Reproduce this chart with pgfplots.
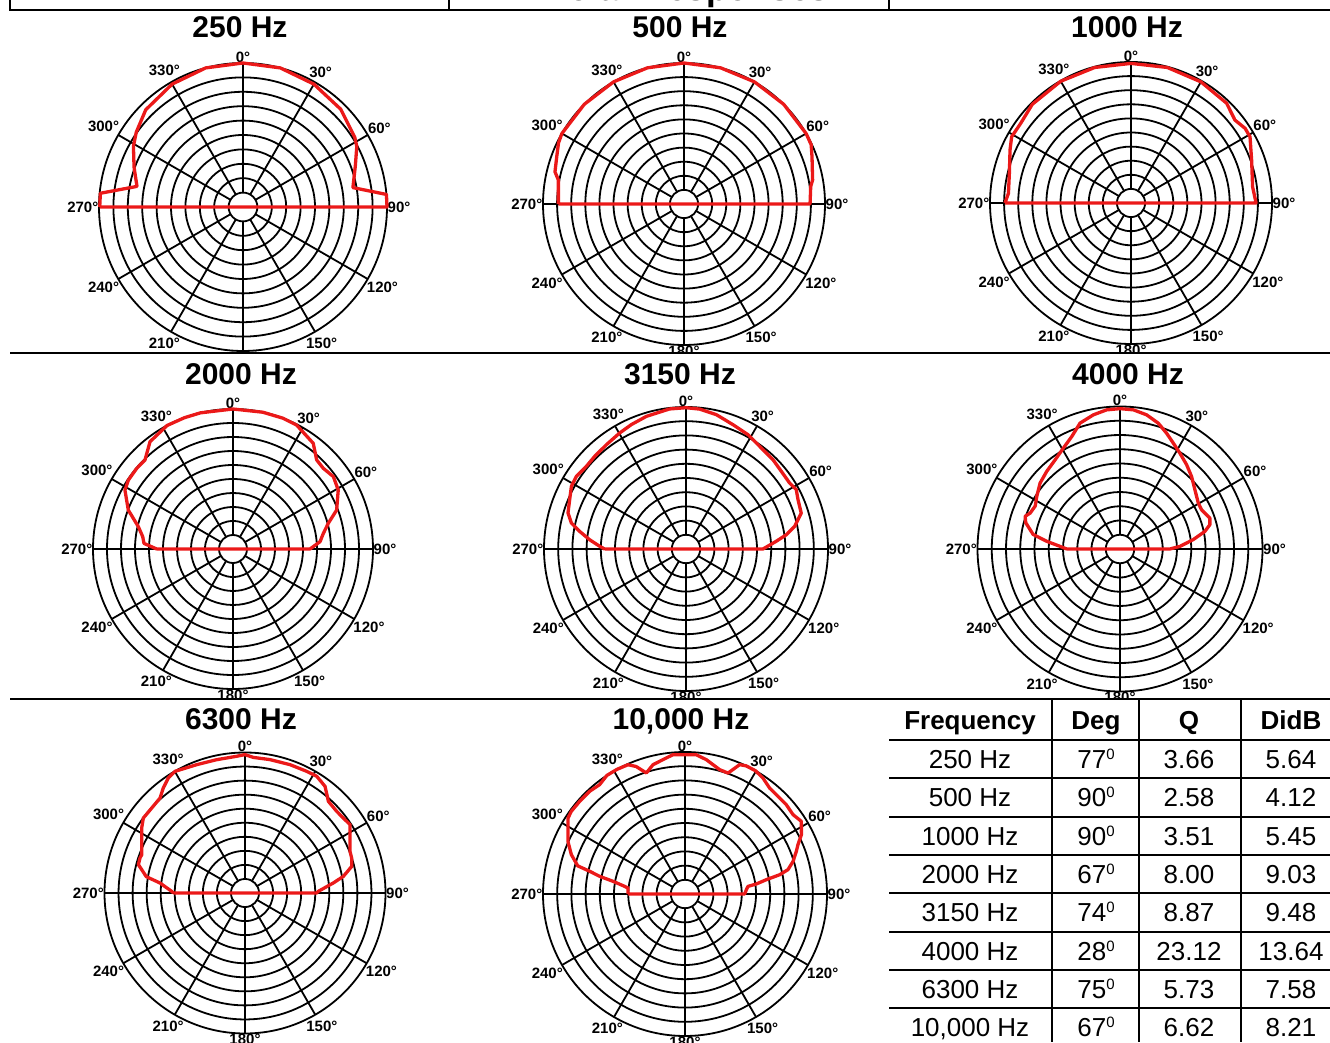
\documentclass[border=0pt]{standalone}
\usepackage{fontspec}
\setmainfont{Liberation Sans}
\usepackage{pgfplots}
\pgfplotsset{compat=1.18}
\usepgfplotslibrary{polar}
\definecolor{curve}{RGB}{235,25,25}

\pgfplotsset{
  cell/.style={
    scale only axis, anchor=center,
    xmin=0, xmax=360, ymin=0, ymax=10,
    xtick={0,30,60,90,120,150,180,210,240,270,300,330},
    xticklabels={90°,60°,30°,0°,330°,300°,270°,240°,210°,180°,150°,120°},
    xticklabel style={font=\bfseries\fontsize{15}{15}\selectfont, inner sep=0.5pt},
    ytick={1,...,9}, yticklabels={},
    xmajorgrids=false, ymajorgrids=true,
    major grid style={black, line width=1.8pt},
    axis line style={black, line width=1.8pt},
    y axis line style={draw=none},
    major tick length=0pt,
    clip=false,
  },
  spoke/.style={black, line width=1.8pt, mark=none, forget plot},
  % angles are read as on the chart: 0 at the top, clockwise
  resp/.style={curve, line width=3.3pt, mark=none, line join=round,
    x filter/.expression={mod(450-x,360)}},
}
\newcommand\spokes{\pgfplotsinvokeforeach{0,30,60,90,120,150,180,210,240,270,300,330}{%
  \addplot[spoke] coordinates {(##1,1) (##1,10)};}}
% #1..#4 cell box, #5 #6 centre, #7 diameter, #8 data
\newcommand\polarcell[8]{%
  \begin{scope}
    \clip (#1,1042-#2) rectangle (#3,1042-#4);
    \begin{polaraxis}[cell, at={(#5pt,1042pt-#6pt)}, width=#7pt, height=#7pt]
      \spokes
      \addplot[resp] coordinates {#8};
    \end{polaraxis}
  \end{scope}}

\begin{document}
\begin{tikzpicture}[x=1pt,y=1pt]
\useasboundingbox (0,0) rectangle (1330,1042);

\begin{scope}
  \clip (0,1042) rectangle (1330,1033);
  \node[anchor=base, font=\bfseries\fontsize{35}{35}\selectfont, inner sep=0pt] at (687,1041.5) {Polar Responses};
\end{scope}

% 250 Hz
\polarcell{10}{10}{449}{353}{243}{207}{288}{
 (270,9.95) (275.5,9.95) (281,7.5) (290,8.05) (299,8.7) (305,9.05) (315,9.55)
 (330,9.85) (345,10) (0,10) (15,10) (30,9.85) (45,9.6) (58,9.15) (62,8.95)
 (70,8.3) (80,7.75) (85,10) (90,10) (270,9.95)}
% 500 Hz
\polarcell{449}{10}{889}{353}{684}{204}{282}{
 (270,8.91) (280.8,9.07) (284,9.43) (290.4,9.63) (296,9.9) (300,10) (315,10)
 (330,10) (345,10) (0,10) (15,10) (30,10) (45,10) (60,10) (65,9.95) (69.7,9.68)
 (79.4,9.28) (82.2,9.07) (90,8.94) (270,8.91)}
% 1000 Hz
\polarcell{889}{10}{1330}{353}{1131}{203}{282}{
 (270,8.94) (274.5,8.72) (283.7,8.88) (293.7,9.37) (299,9.68) (305.8,9.65)
 (315,9.9) (330,9.97) (345,9.95) (0,9.9) (15,9.95) (30,9.92) (43.8,9.8)
 (51.4,9.43) (56.8,9.67) (60.9,9.66) (70.4,9.08) (82.4,8.7) (90,8.87) (270,8.94)}
% 2000 Hz
\polarcell{10}{353}{449}{699}{233}{549}{280}{
 (270,5.45) (273.6,6.37) (277.8,6.51) (283.3,6.95) (290.4,7.98) (298.6,8.79)
 (303.4,8.95) (309.9,8.97) (315.3,8.94) (322.3,9.69) (331.9,10) (339.7,10)
 (346.6,10) (0,10) (12.3,10) (20.8,10) (27.2,9.95) (37.2,9.48) (43.2,8.73)
 (48.2,8.65) (54.2,8.84) (60.7,8.62) (69.4,7.91) (74.9,7.05) (80.2,6.55)
 (85.2,6.24) (90,5.5) (270,5.45)}
% 3150 Hz
\polarcell{449}{353}{889}{699}{686}{549}{284}{
 (270,5.73) (271.8,6.08) (275.5,6.82) (279.4,7.59) (282.8,8.28) (287,8.69)
 (293,8.9) (298.7,9.2) (303.5,9.26) (309.7,9.12) (315.4,9.16) (322.6,9.24)
 (330.2,9.41) (336.3,9.57) (343.4,9.75) (353.3,9.93) (0,9.95) (5.6,9.9)
 (12.7,9.7) (20.7,9.36) (28.5,9.16) (37.8,8.85) (44.2,8.78) (50.8,8.66)
 (57.5,8.65) (61.7,8.82) (66.2,8.62) (72.7,8.5) (78.2,7.82) (81.9,7.14)
 (85.1,6.38) (90,5.42) (270,5.73)}
% 4000 Hz
\polarcell{889}{353}{1330}{699}{1120}{549}{285}{
 (270,3.74) (272.5,4.21) (276,5.17) (279.5,6.18) (285.6,6.87) (289,7.04)
 (291.8,6.79) (296.9,6.67) (302.3,6.91) (309.5,7.27) (316.6,7.49) (324,7.74)
 (330.7,8.12) (336.8,8.59) (342.4,9.27) (348.8,9.6) (354.5,9.81) (0,9.85)
 (5.5,9.81) (11.2,9.6) (16.9,9.23) (21.9,8.76) (26.7,8.32) (32,7.93) (38.3,7.54)
 (44.6,7.15) (51.7,6.7) (59.6,6.37) (64.3,6.35) (68.4,6.53) (71,6.67)
 (74.9,6.53) (78.3,6.08) (82.7,5.18) (87.5,4.21) (90,3.5) (270,3.74)}
% 6300 Hz
\polarcell{10}{699}{449}{1042}{245}{893}{281}{
 (270,5.1) (271.3,5.22) (276.7,6.09) (279.4,7.12) (284.9,7.85) (288.4,7.88)
 (290.4,7.84) (296.6,8.22) (302.2,8.69) (306.4,8.99) (312.3,8.98) (318.2,9.07)
 (322.1,9.47) (326.3,9.84) (330.1,9.99) (339.4,9.76) (348,9.7) (356.5,9.75)
 (0,9.85) (3.5,9.67) (10.6,9.66) (19.3,9.68) (26.9,9.71) (31.6,9.75) (36.9,9.49)
 (42.3,8.82) (48.3,8.74) (52.7,8.8) (56.9,8.92) (62.4,8.44) (68.4,8.04)
 (71.8,7.99) (76,7.83) (80.4,7.1) (83.5,6.33) (88.7,5.22) (90,5.1) (270,5.1)}
% 10,000 Hz
\polarcell{449}{699}{889}{1042}{685}{894}{284}{
 (270,4.01) (276,4.04) (277.2,4.28) (280,5.15) (281.7,6.14) (283.4,6.9)
 (284.7,7.81) (289.1,8.47) (294.2,9.04) (299.4,9.46) (303,9.82) (306,9.9)
 (311.3,9.88) (317.1,9.87) (322,9.77) (326.6,10) (331.4,10) (336.2,9.95)
 (339,9.62) (342.3,8.95) (346.1,9.38) (350.7,9.59) (355.1,9.85) (4.6,9.84)
 (9,9.58) (15.6,9.09) (19.6,9.04) (22.9,9.89) (25.5,10) (29.8,10) (33.9,9.84)
 (38.6,9.55) (42.6,9.5) (48.6,9.51) (53.7,9.44) (58,9.66) (63,9.2) (66.4,8.68)
 (69,8.4) (73.2,7.95) (76.7,7.45) (78.5,6.8) (80,5.82) (82,5.07) (83.1,4.47)
 (86,4.33) (90,4.2) (270,4.01)}

% cell titles
\begin{scope}[every node/.style={anchor=base, inner sep=0pt, font=\bfseries\fontsize{30}{30}\selectfont}]
  \node at (240,1042-38) {250 Hz};
  \node at (680,1042-38) {500 Hz};
  \node at (1127,1042-38) {1000 Hz};
  \node at (241,1042-385) {2000 Hz};
  \node at (680,1042-385) {3150 Hz};
  \node at (1128,1042-385) {4000 Hz};
  \node at (241,1042-730) {6300 Hz};
  \node at (681,1042-730) {10,000 Hz};
\end{scope}

% frame of the page grid
\begin{scope}[line width=2pt]
  \draw (10,1042) -- (10,1042-10) -- (1330,1042-10);
  \draw (449,1042) -- (449,1042-10);
  \draw (889,1042) -- (889,1042-10);
  \draw (10,1042-353) -- (1330,1042-353);
  \draw (10,1042-699) -- (1330,1042-699);
  % table in the last cell
  \foreach \yy in {740,778,817,855,893,932,970,1008}
    \draw (889,1042-\yy) -- (1330,1042-\yy);
  \foreach \xx in {1052,1139,1241}
    \draw (\xx,1042-699) -- (\xx,0);
\end{scope}

\newcommand\dg[1]{#1\raisebox{9pt}{\fontsize{15}{15}\selectfont 0}}
\begin{scope}[every node/.style={anchor=base, inner sep=0pt, font=\fontsize{26}{26}\selectfont}]
  \node[font=\bfseries\fontsize{26}{26}\selectfont] at (970,1042-729.5) {Frequency};
  \node[font=\bfseries\fontsize{26}{26}\selectfont] at (1096,1042-729.5) {Deg};
  \node[font=\bfseries\fontsize{26}{26}\selectfont] at (1189,1042-729.5) {Q};
  \node[font=\bfseries\fontsize{26}{26}\selectfont] at (1291,1042-729.5) {DidB};
  \foreach \yy/\f/\d/\q/\di in {740/250 Hz/77/3.66/5.64, 778/500 Hz/90/2.58/4.12,
      817/1000 Hz/90/3.51/5.45, 855/2000 Hz/67/8.00/9.03, 893/3150 Hz/74/8.87/9.48,
      932/4000 Hz/28/23.12/13.64, 970/6300 Hz/75/5.73/7.58, 1008/{10,000 Hz}/67/6.62/8.21}{
    \node at (970,1042-\yy-28.6) {\f};
    \node at (1096,1042-\yy-28.6) {\dg{\d}};
    \node at (1189,1042-\yy-28.6) {\q};
    \node at (1291,1042-\yy-28.6) {\di};
  }
\end{scope}
\end{tikzpicture}
\end{document}
